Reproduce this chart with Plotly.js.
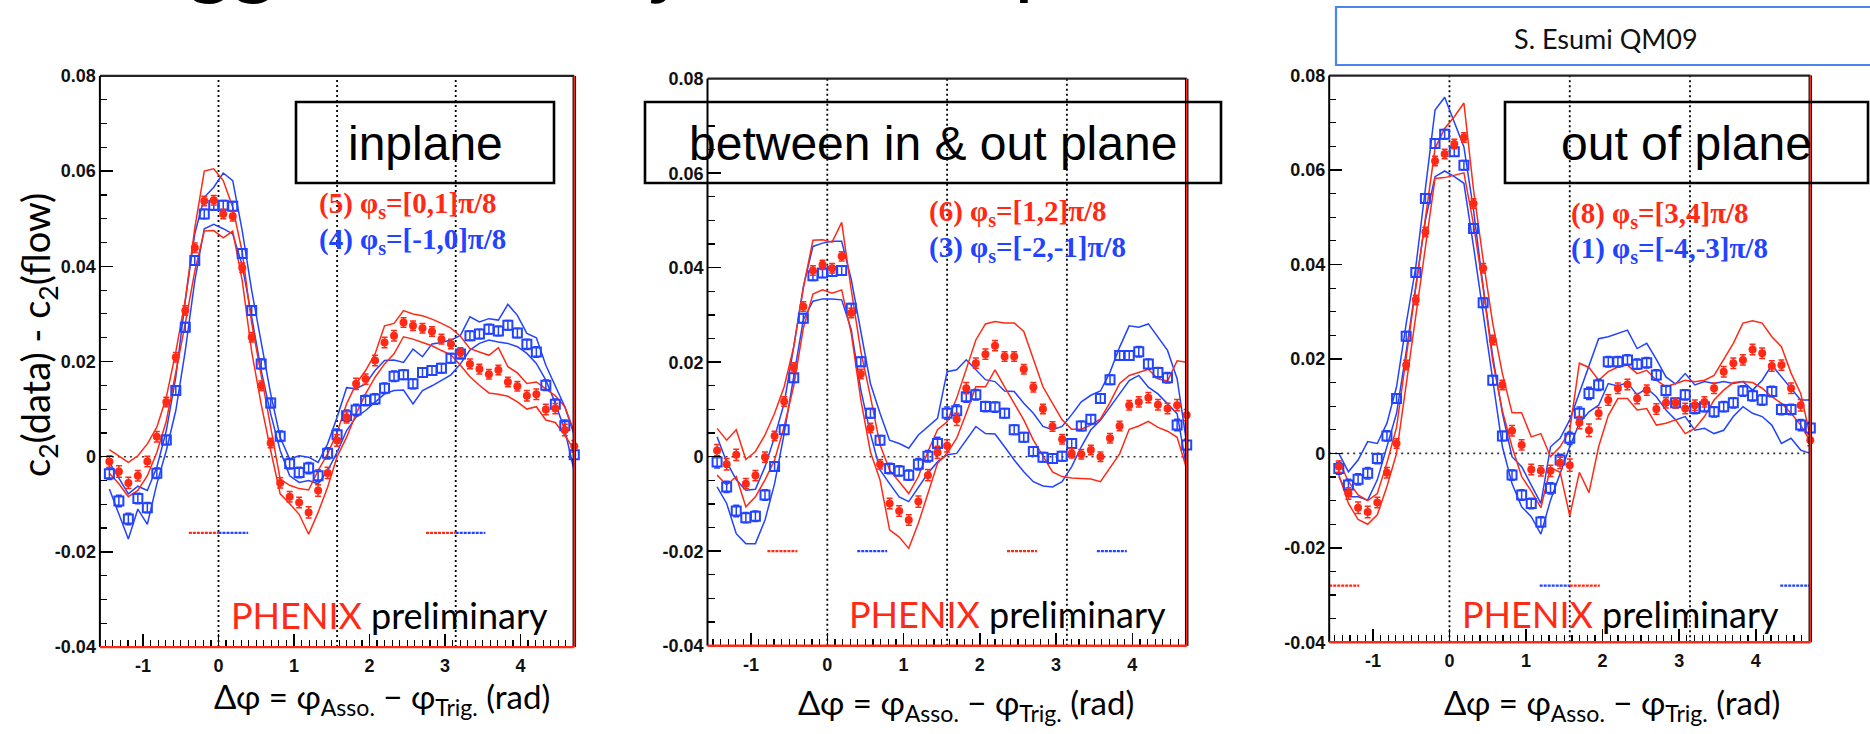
<!DOCTYPE html>
<html>
<head>
<meta charset="utf-8">
<script src="https://cdn.plot.ly/plotly-3.0.1.min.js"></script>
<style>
html,body{margin:0;padding:0;background:#fff;}
#chart{width:1870px;height:734px;}
</style>
</head>
<body>
<div id="chart"></div>
<script>
// ---------------- DATA ----------------
const PI = Math.PI;
// 50 bins over [-pi/2, 3pi/2]; points are drawn at the upper edge of each bin
const binX = Array.from({length: 50}, (_, i) => -PI / 2 + (i + 1) * PI / 25);

const panelTitles = ["inplane", "between in & out plane", "out of plane"];
const redLabels  = ["(5) φ<sub>s</sub>=[0,1]π/8", "(6) φ<sub>s</sub>=[1,2]π/8", "(8) φ<sub>s</sub>=[3,4]π/8"];
const blueLabels = ["(4) φ<sub>s</sub>=[-1,0]π/8", "(3) φ<sub>s</sub>=[-2,-1]π/8", "(1) φ<sub>s</sub>=[-4,-3]π/8"];

const xTickVals = [-1, 0, 1, 2, 3, 4];
const xTickText = ["-1", "0", "1", "2", "3", "4"];
const yTickVals = [-0.04, -0.02, 0, 0.02, 0.04, 0.06, 0.08];
const yTickText = ["-0.04", "-0.02", "0", "0.02", "0.04", "0.06", "0.08"];

// Panel 1 : inplane
const p1RedPts = [-0.0010,-0.0031,-0.0055,-0.0040,-0.0010,0.0042,0.0115,0.0209,0.0307,0.0439,0.0537,0.0539,0.0510,0.0505,0.0397,0.0251,0.0149,0.0029,-0.0055,-0.0084,-0.0096,-0.0117,-0.0071,-0.0034,0.0034,0.0083,0.0153,0.0163,0.0202,0.0240,0.0254,0.0282,0.0275,0.0270,0.0263,0.0247,0.0237,0.0219,0.0195,0.0184,0.0173,0.0182,0.0157,0.0148,0.0128,0.0131,0.0099,0.0101,0.0056,0.0022];
const p1BluePts = [-0.0036,-0.0093,-0.0131,-0.0088,-0.0107,-0.0035,0.0035,0.0139,0.0272,0.0412,0.0510,0.0528,0.0528,0.0526,0.0427,0.0307,0.0195,0.0113,0.0043,-0.0015,-0.0033,-0.0024,-0.0040,0.0007,0.0046,0.0086,0.0098,0.0118,0.0121,0.0144,0.0169,0.0172,0.0153,0.0177,0.0181,0.0186,0.0207,0.0216,0.0254,0.0258,0.0268,0.0264,0.0276,0.0260,0.0236,0.0220,0.0150,0.0110,0.0065,0.0004];
const p1RedUp = [0.0015,0.0002,-0.0012,0.0002,0.0027,0.0062,0.0125,0.0220,0.0330,0.0480,0.0600,0.0605,0.0580,0.0524,0.0430,0.0280,0.0170,0.0055,-0.0047,-0.0060,-0.0067,-0.0070,-0.0029,0.0006,0.0051,0.0111,0.0153,0.0181,0.0216,0.0275,0.0280,0.0307,0.0300,0.0296,0.0289,0.0280,0.0270,0.0253,0.0227,0.0220,0.0213,0.0229,0.0189,0.0176,0.0154,0.0157,0.0143,0.0128,0.0105,0.0052];
const p1RedLo = [-0.0035,-0.0057,-0.0084,-0.0071,-0.0040,0.0009,0.0075,0.0175,0.0280,0.0390,0.0474,0.0475,0.0460,0.0474,0.0370,0.0220,0.0110,0.0013,-0.0078,-0.0099,-0.0121,-0.0163,-0.0117,-0.0064,0.0000,0.0041,0.0090,0.0132,0.0167,0.0195,0.0216,0.0252,0.0247,0.0240,0.0233,0.0223,0.0214,0.0192,0.0168,0.0150,0.0134,0.0131,0.0127,0.0115,0.0100,0.0105,0.0077,0.0072,0.0045,0.0014];
const p1BlueUp = [-0.0012,-0.0045,-0.0078,-0.0062,-0.0071,-0.0022,0.0055,0.0167,0.0328,0.0468,0.0545,0.0566,0.0596,0.0580,0.0475,0.0349,0.0237,0.0132,0.0041,-0.0005,0.0002,-0.0001,-0.0012,0.0027,0.0083,0.0145,0.0143,0.0153,0.0181,0.0202,0.0203,0.0198,0.0226,0.0210,0.0237,0.0240,0.0245,0.0255,0.0294,0.0283,0.0290,0.0287,0.0320,0.0297,0.0259,0.0250,0.0192,0.0147,0.0105,0.0045];
const p1BlueLo = [-0.0068,-0.0121,-0.0173,-0.0110,-0.0142,-0.0057,0.0013,0.0097,0.0223,0.0370,0.0479,0.0488,0.0479,0.0468,0.0402,0.0293,0.0181,0.0090,0.0013,-0.0040,-0.0054,-0.0050,-0.0057,-0.0029,0.0009,0.0055,0.0083,0.0097,0.0114,0.0132,0.0139,0.0140,0.0111,0.0139,0.0149,0.0160,0.0172,0.0195,0.0224,0.0238,0.0245,0.0241,0.0238,0.0231,0.0217,0.0196,0.0161,0.0112,0.0056,-0.0031];
const p1Err = [0.0012,0.0012,0.0012,0.0011,0.0011,0.0011,0.0010,0.0010,0.0010,0.0010,0.0010,0.0010,0.0010,0.0010,0.0010,0.0010,0.0010,0.0010,0.0011,0.0011,0.0011,0.0012,0.0012,0.0012,0.0012,0.0012,0.0012,0.0011,0.0011,0.0011,0.0011,0.0010,0.0010,0.0010,0.0010,0.0010,0.0010,0.0010,0.0010,0.0010,0.0010,0.0010,0.0010,0.0010,0.0011,0.0011,0.0011,0.0011,0.0012,0.0012];

// Panel 2 : between in & out plane
const p2RedPts = [0.0013,-0.0016,0.0004,-0.0057,-0.0040,-0.0001,0.0044,0.0117,0.0189,0.0318,0.0394,0.0406,0.0399,0.0424,0.0304,0.0175,0.0061,-0.0016,-0.0099,-0.0115,-0.0134,-0.0095,-0.0039,0.0009,0.0023,0.0079,0.0145,0.0198,0.0217,0.0235,0.0212,0.0212,0.0185,0.0147,0.0101,0.0064,0.0037,0.0007,0.0005,0.0014,0.0000,0.0039,0.0065,0.0109,0.0116,0.0125,0.0110,0.0102,0.0109,0.0088];
const p2BluePts = [-0.0011,-0.0064,-0.0115,-0.0129,-0.0126,-0.0081,-0.0021,0.0057,0.0167,0.0293,0.0383,0.0389,0.0392,0.0394,0.0314,0.0201,0.0092,0.0035,-0.0025,-0.0030,-0.0039,-0.0016,0.0001,0.0028,0.0092,0.0097,0.0127,0.0131,0.0106,0.0105,0.0092,0.0057,0.0041,0.0011,-0.0001,-0.0004,0.0001,0.0028,0.0065,0.0079,0.0123,0.0163,0.0214,0.0214,0.0222,0.0196,0.0178,0.0167,0.0067,0.0025];
const p2RedUp = [0.0060,0.0035,0.0057,-0.0006,0.0011,0.0046,0.0092,0.0148,0.0233,0.0357,0.0458,0.0459,0.0454,0.0496,0.0353,0.0223,0.0127,0.0025,-0.0028,-0.0053,-0.0078,-0.0042,0.0011,0.0057,0.0074,0.0124,0.0184,0.0247,0.0281,0.0286,0.0283,0.0283,0.0265,0.0208,0.0148,0.0113,0.0078,0.0058,0.0058,0.0067,0.0080,0.0115,0.0155,0.0172,0.0178,0.0185,0.0165,0.0160,0.0203,0.0200];
const p2RedLo = [-0.0039,-0.0060,-0.0042,-0.0106,-0.0085,-0.0049,-0.0007,0.0064,0.0150,0.0272,0.0344,0.0353,0.0346,0.0353,0.0261,0.0120,0.0010,-0.0049,-0.0155,-0.0170,-0.0194,-0.0141,-0.0078,-0.0014,0.0007,0.0039,0.0092,0.0148,0.0148,0.0184,0.0148,0.0113,0.0078,0.0035,0.0000,-0.0032,-0.0042,-0.0045,-0.0046,-0.0047,-0.0053,-0.0023,0.0006,0.0058,0.0065,0.0075,0.0062,0.0054,0.0041,-0.0026];
const p2BlueUp = [0.0042,-0.0011,-0.0049,-0.0071,-0.0069,-0.0021,0.0042,0.0113,0.0233,0.0360,0.0445,0.0452,0.0456,0.0456,0.0375,0.0269,0.0155,0.0092,0.0035,0.0028,0.0018,0.0046,0.0064,0.0081,0.0180,0.0184,0.0205,0.0184,0.0163,0.0159,0.0139,0.0138,0.0113,0.0092,0.0064,0.0057,0.0064,0.0089,0.0116,0.0130,0.0139,0.0179,0.0232,0.0277,0.0274,0.0281,0.0253,0.0225,0.0165,0.0028];
const p2BlueLo = [-0.0064,-0.0099,-0.0163,-0.0184,-0.0184,-0.0134,-0.0057,0.0049,0.0170,0.0290,0.0329,0.0334,0.0334,0.0332,0.0269,0.0141,0.0049,-0.0028,-0.0057,-0.0085,-0.0095,-0.0064,-0.0035,-0.0011,0.0004,0.0007,0.0035,0.0064,0.0049,0.0048,0.0021,-0.0007,-0.0032,-0.0053,-0.0062,-0.0064,-0.0053,-0.0021,0.0021,0.0057,0.0077,0.0105,0.0133,0.0161,0.0172,0.0147,0.0133,0.0112,0.0091,-0.0026];
const p2Err = [0.0013,0.0012,0.0012,0.0011,0.0011,0.0011,0.0010,0.0010,0.0010,0.0010,0.0010,0.0010,0.0010,0.0010,0.0010,0.0010,0.0010,0.0010,0.0011,0.0011,0.0011,0.0012,0.0012,0.0013,0.0013,0.0013,0.0012,0.0011,0.0011,0.0011,0.0010,0.0010,0.0010,0.0010,0.0010,0.0010,0.0010,0.0010,0.0010,0.0010,0.0010,0.0010,0.0010,0.0010,0.0011,0.0011,0.0011,0.0011,0.0012,0.0012];

// Panel 3 : out of plane
const p3RedPts = [-0.0028,-0.0085,-0.0115,-0.0124,-0.0104,-0.0041,0.0021,0.0187,0.0325,0.0469,0.0619,0.0634,0.0655,0.0669,0.0529,0.0392,0.0240,0.0145,0.0048,0.0018,-0.0034,-0.0037,-0.0037,-0.0020,-0.0025,0.0065,0.0049,0.0085,0.0113,0.0138,0.0146,0.0116,0.0134,0.0094,0.0107,0.0107,0.0095,0.0102,0.0109,0.0138,0.0173,0.0191,0.0198,0.0220,0.0212,0.0185,0.0187,0.0138,0.0102,0.0028];
const p3BluePts = [-0.0032,-0.0067,-0.0055,-0.0042,-0.0011,0.0037,0.0116,0.0248,0.0383,0.0540,0.0656,0.0676,0.0639,0.0610,0.0476,0.0319,0.0155,0.0037,-0.0046,-0.0088,-0.0106,-0.0145,-0.0074,-0.0014,0.0032,0.0085,0.0127,0.0145,0.0194,0.0194,0.0198,0.0189,0.0192,0.0166,0.0133,0.0107,0.0124,0.0095,0.0099,0.0088,0.0099,0.0107,0.0132,0.0122,0.0113,0.0131,0.0093,0.0093,0.0060,0.0054];
const p3RedUp = [-0.0014,-0.0060,-0.0088,-0.0100,-0.0085,-0.0020,0.0055,0.0205,0.0350,0.0500,0.0646,0.0688,0.0713,0.0742,0.0558,0.0410,0.0275,0.0169,0.0086,0.0086,0.0035,0.0042,-0.0007,0.0014,0.0049,0.0191,0.0182,0.0155,0.0173,0.0183,0.0187,0.0169,0.0176,0.0155,0.0141,0.0148,0.0155,0.0152,0.0155,0.0165,0.0198,0.0233,0.0276,0.0281,0.0276,0.0247,0.0226,0.0170,0.0127,0.0035];
const p3RedLo = [-0.0045,-0.0106,-0.0140,-0.0150,-0.0130,-0.0070,0.0000,0.0145,0.0295,0.0440,0.0582,0.0584,0.0589,0.0594,0.0485,0.0350,0.0195,0.0090,0.0014,-0.0049,-0.0080,-0.0115,-0.0030,-0.0040,-0.0132,-0.0040,-0.0083,0.0014,0.0080,0.0116,0.0116,0.0092,0.0095,0.0060,0.0064,0.0071,0.0042,0.0053,0.0078,0.0113,0.0134,0.0150,0.0152,0.0150,0.0138,0.0120,0.0106,0.0085,0.0060,0.0025];
const p3BlueUp = [0.0000,-0.0039,-0.0014,0.0025,0.0021,0.0064,0.0141,0.0275,0.0395,0.0561,0.0727,0.0754,0.0702,0.0649,0.0515,0.0353,0.0205,0.0085,-0.0007,-0.0028,-0.0067,-0.0106,0.0014,0.0032,0.0071,0.0127,0.0183,0.0243,0.0247,0.0254,0.0261,0.0222,0.0233,0.0199,0.0162,0.0147,0.0169,0.0145,0.0152,0.0148,0.0152,0.0148,0.0152,0.0134,0.0155,0.0187,0.0163,0.0138,0.0113,0.0113];
const p3BlueLo = [-0.0049,-0.0092,-0.0092,-0.0099,-0.0056,0.0014,0.0085,0.0215,0.0360,0.0494,0.0586,0.0598,0.0586,0.0572,0.0438,0.0296,0.0145,0.0014,-0.0064,-0.0113,-0.0134,-0.0171,-0.0099,-0.0042,0.0014,0.0064,0.0088,0.0102,0.0148,0.0143,0.0150,0.0124,0.0138,0.0120,0.0092,0.0071,0.0078,0.0049,0.0053,0.0042,0.0049,0.0078,0.0099,0.0085,0.0078,0.0060,0.0021,0.0032,0.0007,0.0000];
const p3Err = [0.0012,0.0012,0.0012,0.0012,0.0011,0.0011,0.0010,0.0010,0.0010,0.0010,0.0010,0.0010,0.0010,0.0010,0.0010,0.0010,0.0010,0.0010,0.0011,0.0011,0.0011,0.0011,0.0012,0.0012,0.0013,0.0013,0.0013,0.0012,0.0011,0.0011,0.0011,0.0011,0.0011,0.0011,0.0011,0.0011,0.0011,0.0011,0.0011,0.0011,0.0011,0.0011,0.0011,0.0011,0.0011,0.0011,0.0011,0.0011,0.0012,0.0012];

// phi_s window markers, in units of pi/8, and their level
const segLevels = [-0.016, -0.020, -0.028];
const segRed  = [[[-1, 0], [7, 8]], [[-2, -1], [6, 7]], [[-4, -3], [4, 5]]];
const segBlue = [[[0, 1], [8, 9]], [[1, 2], [9, 10]], [[3, 4], [11, 12]]];

// ---------------- STYLE / LAYOUT ----------------
const RED = '#ff2a16', BLUE = '#2243ff';
const W = 1870, H = 734;
const fx = v => v / W;
const fy = v => 1 - v / H;

const panels = [
  {red: p1RedPts, blue: p1BluePts, ru: p1RedUp, rl: p1RedLo, bu: p1BlueUp, bl: p1BlueLo, err: p1Err},
  {red: p2RedPts, blue: p2BluePts, ru: p2RedUp, rl: p2RedLo, bu: p2BlueUp, bl: p2BlueLo, err: p2Err},
  {red: p3RedPts, blue: p3BluePts, ru: p3RedUp, rl: p3RedLo, bu: p3BlueUp, bl: p3BlueLo, err: p3Err}
];

const geo = [
  {l: 99.9, r: 574.3, t: 75.9, b: 647.1},
  {l: 707.5, r: 1186.7, t: 78.7, b: 645.7},
  {l: 1329.2, r: 1810.3, t: 75.6, b: 642.3}
];
const boxes = [
  {l: 296, r: 554, t: 102, b: 183},
  {l: 645, r: 1221, t: 102, b: 183},
  {l: 1505, r: 1868, t: 102, b: 183}
];
const legPos = [{x: 317, y1: 205, y2: 241}, {x: 927, y1: 213, y2: 249}, {x: 1569, y1: 215, y2: 250}];
const phenixPos = [{x: 228.5, base: 629}, {x: 847, base: 628}, {x: 1459.6, base: 628}];
const xTitlePos = [{cx: 381.5, base: 710}, {cx: 965.5, base: 716}, {cx: 1611.8, base: 716}];

const traces = [];
const shapes = [];
const annotations = [];
const layout = {
  width: W, height: H,
  margin: {l: 0, r: 0, t: 0, b: 0},
  paper_bgcolor: '#ffffff', plot_bgcolor: '#ffffff',
  showlegend: false, hovermode: false,
  shapes: shapes, annotations: annotations
};

const tickFont = {family: 'Liberation Sans, Arial, sans-serif', size: 18, color: '#111', weight: 'bold'};

panels.forEach((p, i) => {
  const sfx = i === 0 ? '' : String(i + 1);
  const xa = 'x' + sfx, ya = 'y' + sfx;
  const g = geo[i];
  layout['xaxis' + sfx] = {
    domain: [fx(g.l), fx(g.r)], range: [-PI / 2, 3 * PI / 2], anchor: ya,
    tickmode: 'array', tickvals: xTickVals, ticktext: xTickText,
    ticks: 'inside', ticklen: 13, tickwidth: 1.5, tickcolor: '#000',
    minor: {dtick: 0.1, tick0: 0, ticks: 'inside', ticklen: 7, tickwidth: 1.2, tickcolor: '#000', showgrid: false},
    showgrid: false, zeroline: false, showline: false,
    tickfont: tickFont, ticklabelstandoff: 6, fixedrange: true
  };
  layout['yaxis' + sfx] = {
    domain: [fy(g.b), fy(g.t)], range: [-0.04, 0.08], anchor: xa,
    tickmode: 'array', tickvals: yTickVals, ticktext: yTickText,
    ticks: 'inside', ticklen: 13, tickwidth: 1.5, tickcolor: '#000',
    minor: {dtick: 0.005, tick0: 0, ticks: 'inside', ticklen: 7, tickwidth: 1.2, tickcolor: '#000', showgrid: false},
    showgrid: false, zeroline: false, showline: false,
    tickfont: tickFont, ticklabelstandoff: 3, fixedrange: true
  };

  // systematic band lines
  [[p.bu, BLUE], [p.bl, BLUE], [p.ru, RED], [p.rl, RED]].forEach(([arr, c]) => {
    traces.push({x: binX, y: arr, xaxis: xa, yaxis: ya, type: 'scatter', mode: 'lines',
      line: {color: c, width: 1.5}, hoverinfo: 'skip'});
  });
  // phi_s window segments
  segRed[i].forEach(s => traces.push({x: [s[0] * PI / 8, s[1] * PI / 8], y: [segLevels[i], segLevels[i]],
    xaxis: xa, yaxis: ya, type: 'scatter', mode: 'lines', line: {color: RED, width: 2.2, dash: '3px,1px'}, cliponaxis: false}));
  segBlue[i].forEach(s => traces.push({x: [s[0] * PI / 8, s[1] * PI / 8], y: [segLevels[i], segLevels[i]],
    xaxis: xa, yaxis: ya, type: 'scatter', mode: 'lines', line: {color: BLUE, width: 2.2, dash: '3px,1px'}, cliponaxis: false}));
  // data points
  traces.push({x: binX, y: p.blue, xaxis: xa, yaxis: ya, type: 'scatter', mode: 'markers', cliponaxis: false,
    marker: {symbol: 'square-open', size: 9, color: BLUE, line: {color: BLUE, width: 2}},
    error_y: {type: 'data', array: p.err, visible: true, color: BLUE, thickness: 1.5, width: 3}});
  traces.push({x: binX, y: p.red, xaxis: xa, yaxis: ya, type: 'scatter', mode: 'markers', cliponaxis: false,
    marker: {symbol: 'circle', size: 8, color: RED, line: {width: 0}},
    error_y: {type: 'data', array: p.err, visible: true, color: RED, thickness: 1.5, width: 3}});

  // dotted reference lines
  [0, PI / 2, PI].forEach(v => shapes.push({type: 'line', xref: xa, yref: ya + ' domain', x0: v, x1: v, y0: 0, y1: 1,
    line: {color: '#000', width: 1.8, dash: '2px,3px'}, layer: 'below'}));
  shapes.push({type: 'line', xref: xa + ' domain', yref: ya, x0: 0, x1: 1, y0: 0, y1: 0,
    line: {color: '#333', width: 1.6, dash: '2px,4px'}, layer: 'below'});
  // frame
  shapes.push({type: 'line', xref: xa + ' domain', yref: ya + ' domain', x0: 0, x1: 1, y0: 1, y1: 1, line: {color: '#222', width: 2.2}});
  shapes.push({type: 'line', xref: xa + ' domain', yref: ya + ' domain', x0: 0, x1: 0, y0: 0, y1: 1, line: {color: '#000', width: 2}});
  shapes.push({type: 'line', xref: xa + ' domain', yref: ya + ' domain', x0: 1, x1: 1, y0: 0, y1: 1, line: {color: '#000', width: 3.5}});
  shapes.push({type: 'line', xref: xa + ' domain', yref: ya + ' domain', x0: 1, x1: 1, y0: 0, y1: 1, line: {color: RED, width: 1.6}});
  shapes.push({type: 'line', xref: xa + ' domain', yref: ya + ' domain', x0: 0, x1: 1, y0: 0, y1: 0, line: {color: RED, width: 2.4}});

  // title box
  const b = boxes[i];
  shapes.push({type: 'rect', xref: 'paper', yref: 'paper', x0: fx(b.l), x1: fx(b.r), y0: fy(b.b), y1: fy(b.t),
    line: {color: '#000', width: 2.6}, fillcolor: 'rgba(0,0,0,0)'});
  annotations.push({xref: 'paper', yref: 'paper', x: fx((b.l + b.r) / 2), y: fy(160 - 0.347 * 48),
    xanchor: 'center', yanchor: 'middle', showarrow: false, text: panelTitles[i],
    font: {family: 'Liberation Sans, Arial, sans-serif', size: 48, color: '#000'}});

  // legend text
  const lp = legPos[i];
  annotations.push({xref: 'paper', yref: 'paper', x: fx(lp.x), y: fy(lp.y1), xanchor: 'left', yanchor: 'middle',
    showarrow: false, text: redLabels[i], font: {family: 'Liberation Serif, Times New Roman, serif', size: 29, color: RED, weight: 'bold'}});
  annotations.push({xref: 'paper', yref: 'paper', x: fx(lp.x), y: fy(lp.y2), xanchor: 'left', yanchor: 'middle',
    showarrow: false, text: blueLabels[i], font: {family: 'Liberation Serif, Times New Roman, serif', size: 29, color: BLUE, weight: 'bold'}});

  // PHENIX preliminary
  const pp = phenixPos[i];
  annotations.push({xref: 'paper', yref: 'paper', x: fx(pp.x), y: fy(pp.base - 0.387 * 36), xanchor: 'left', yanchor: 'middle',
    showarrow: false, text: '<span style="color:' + RED + '">PHENIX</span> preliminary',
    font: {family: 'Lato, Open Sans, sans-serif', size: 36, color: '#000'}});

  // x title
  const xt = xTitlePos[i];
  annotations.push({xref: 'paper', yref: 'paper', x: fx(xt.cx), y: fy(xt.base - 12), xanchor: 'center', yanchor: 'middle',
    showarrow: false, text: 'Δφ = φ<sub>Asso.</sub> − φ<sub>Trig.</sub> (rad)',
    font: {family: 'Lato, Open Sans, Noto Sans, sans-serif', size: 33, color: '#000'}});
});

// y title (only on the first panel)
annotations.push({xref: 'paper', yref: 'paper', x: fx(38), y: fy(335), xanchor: 'center', yanchor: 'middle',
  textangle: -90, showarrow: false, text: 'c<sub>2</sub>(data) - c<sub>2</sub>(flow)',
  font: {family: 'Lato, Open Sans, sans-serif', size: 38, color: '#000'}});

// author box
shapes.push({type: 'rect', xref: 'paper', yref: 'paper', x0: fx(1336), x1: fx(1880), y0: fy(65), y1: fy(7),
  line: {color: '#4a86ee', width: 2.2}, fillcolor: 'rgba(0,0,0,0)'});
annotations.push({xref: 'paper', yref: 'paper', x: fx(1606), y: fy(39), xanchor: 'center', yanchor: 'middle',
  showarrow: false, text: 'S. Esumi QM09', font: {family: 'Lato, Open Sans, sans-serif', size: 27, color: '#111'}});

// cut-off slide title (only descenders visible at the top edge)
[['Trigger', 92], ['jet', 648], ['plane', 1012]].forEach(([t, x]) => annotations.push({
  xref: 'paper', yref: 'paper', x: fx(x), y: fy(-46), xanchor: 'left', yanchor: 'middle',
  showarrow: false, text: t, font: {family: 'Lato, Open Sans, sans-serif', size: 86, color: '#000'}}));

Plotly.newPlot('chart', traces, layout, {staticPlot: true, displayModeBar: false});
</script>
</body>
</html>
